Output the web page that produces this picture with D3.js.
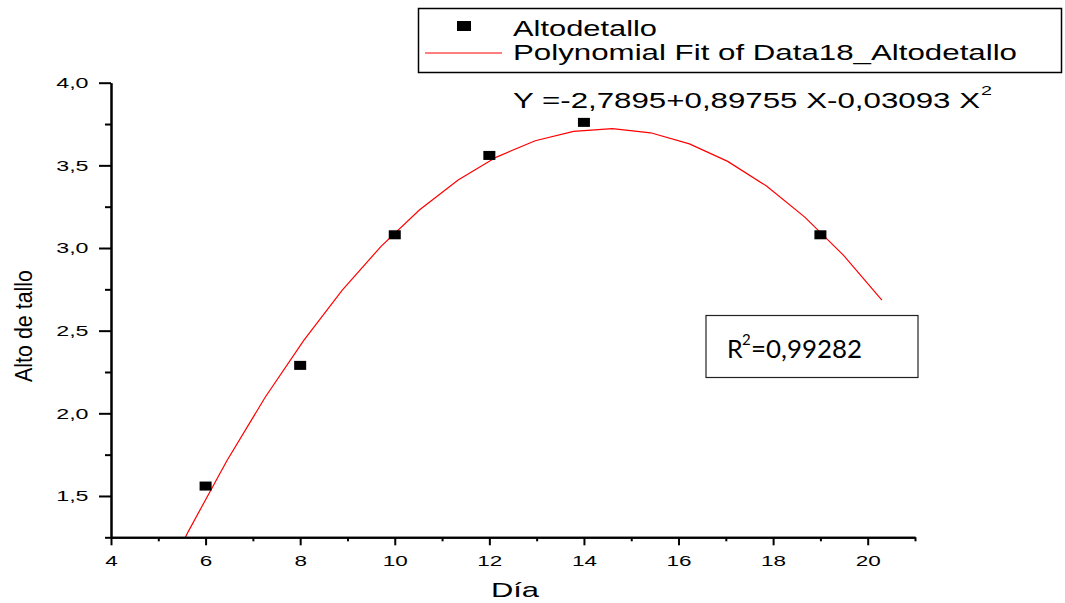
<!DOCTYPE html>
<html>
<head>
<meta charset="utf-8">
<script src="https://cdn.jsdelivr.net/npm/d3@7"></script>
<style>
  body { margin: 0; background: #fff; }
  svg { display: block; }
  text { font-family: "Liberation Sans", Arial, sans-serif; fill: #000; }
</style>
</head>
<body>
<svg width="1065" height="603"></svg>
<script>
// measured points
var dias = [6, 8, 10, 12, 14, 19];
var altos = [1.56, 2.29, 3.08, 3.56, 3.76, 3.08];

// vertices of the fitted curve as drawn
var fitX = [4.0, 4.82, 5.63, 6.45, 7.26, 8.08, 8.89, 9.71, 10.52, 11.34, 12.15,
            12.97, 13.78, 14.6, 15.41, 16.23, 17.04, 17.86, 18.67, 19.49, 20.3];
var fitY = [0.306, 0.818, 1.283, 1.713, 2.097, 2.443, 2.745, 3.010, 3.230, 3.411, 3.550,
            3.649, 3.706, 3.722, 3.697, 3.630, 3.524, 3.375, 3.187, 2.955, 2.685];

var xTicks = [4, 6, 8, 10, 12, 14, 16, 18, 20];
var xMinor = [5, 7, 9, 11, 13, 15, 17, 19, 21];
var yTicks = [1.5, 2.0, 2.5, 3.0, 3.5, 4.0];
var yMinor = [1.25, 1.75, 2.25, 2.75, 3.25, 3.75];

var legendNames = ["Altodetallo", "Polynomial Fit of Data18_Altodetallo"];
var equationText = "Y =-2,7895+0,89755 X-0,03093 X";
var r2Text = "=0,99282";

var svg = d3.select("svg");

var scaleX = d3.scaleLinear().domain([4, 21]).range([111, 915]);
var scaleY = d3.scaleLinear().domain([1.25, 4.0]).range([537.3, 82.7]);

var commaFmt = function (d) { return d3.format(".1f")(d).replace(".", ","); };

// clip for the fit line
svg.append("clipPath").attr("id", "plotClip")
    .append("rect")
    .attr("x", scaleX(4)).attr("y", scaleY(4.0))
    .attr("width", scaleX(21) - scaleX(4))
    .attr("height", scaleY(1.25) - scaleY(4.0));

// fit line
var line = d3.line()
    .x(function (d) { return scaleX(d[0]); })
    .y(function (d) { return scaleY(d[1]); });

svg.append("path")
    .datum(fitX.map(function (x, i) { return [x, fitY[i]]; }))
    .attr("clip-path", "url(#plotClip)")
    .attr("fill", "none")
    .attr("stroke", "#ff0000")
    .attr("stroke-width", 1.2)
    .attr("d", line);

// points
svg.selectAll(".pt")
    .data(dias.map(function (d, i) { return [d, altos[i]]; }))
    .enter().append("rect")
    .attr("class", "pt")
    .attr("x", function (d) { return scaleX(d[0]) - 6; })
    .attr("y", function (d) { return scaleY(d[1]) - 4.5; })
    .attr("width", 12)
    .attr("height", 9)
    .attr("fill", "#000");

// axes
svg.append("g")
    .attr("transform", "translate(0," + scaleY(1.25) + ")")
    .call(d3.axisBottom(scaleX).tickValues(xMinor).tickSize(4).tickSizeOuter(0).tickFormat(""));
var axisXg = svg.append("g")
    .attr("transform", "translate(0," + scaleY(1.25) + ")")
    .call(d3.axisBottom(scaleX).tickValues(xTicks).tickSize(8).tickSizeOuter(0).tickPadding(10)
        .tickFormat(function (d) { return d; }));
axisXg.selectAll("text")
    .style("font-size", "15px")
    .attr("transform", "scale(1.5,1)");

svg.append("g")
    .attr("transform", "translate(" + scaleX(4) + ",0)")
    .call(d3.axisLeft(scaleY).tickValues(yMinor).tickSize(6).tickSizeOuter(0).tickFormat(""));
var axisYg = svg.append("g")
    .attr("transform", "translate(" + scaleX(4) + ",0)")
    .call(d3.axisLeft(scaleY).tickValues(yTicks).tickSize(12).tickSizeOuter(0).tickFormat(commaFmt));
axisYg.selectAll("text")
    .style("font-size", "15px")
    .attr("x", -14.5)
    .attr("transform", "scale(1.55,1)");

svg.selectAll(".domain, .tick line")
    .attr("stroke", "#000")
    .attr("stroke-width", 2);

// axis titles
svg.append("text")
    .attr("transform", "translate(515,597) scale(1.55,1)")
    .attr("text-anchor", "middle")
    .style("font-size", "20px")
    .text("Día");

svg.append("text")
    .attr("transform", "translate(32,326) scale(1.4,1) rotate(-90)")
    .attr("text-anchor", "middle")
    .attr("textLength", 112)
    .attr("lengthAdjust", "spacingAndGlyphs")
    .style("font-size", "17px")
    .text("Alto de tallo");

// legend
svg.append("rect")
    .attr("x", 418.5).attr("y", 8.5)
    .attr("width", 643).attr("height", 64)
    .attr("fill", "#fff")
    .attr("stroke", "#000")
    .attr("stroke-width", 1.5);

svg.append("rect")
    .attr("x", 457).attr("y", 21)
    .attr("width", 14).attr("height", 10)
    .attr("fill", "#000");

svg.append("line")
    .attr("x1", 425).attr("x2", 502)
    .attr("y1", 53).attr("y2", 53)
    .attr("stroke", "#ff0000")
    .attr("stroke-width", 1);

var legendLen = [144, 504];
svg.selectAll(".legText")
    .data(legendNames)
    .enter().append("text")
    .attr("class", "legText")
    .attr("x", 513)
    .attr("y", function (d, i) { return 36 + i * 24; })
    .attr("textLength", function (d, i) { return legendLen[i]; })
    .attr("lengthAdjust", "spacingAndGlyphs")
    .style("font-size", "22px")
    .text(function (d) { return d; });

// equation
svg.append("text")
    .attr("x", 513).attr("y", 108)
    .attr("textLength", 467)
    .attr("lengthAdjust", "spacingAndGlyphs")
    .style("font-size", "22px")
    .text(equationText);
svg.append("text")
    .attr("x", 981).attr("y", 95)
    .attr("textLength", 11)
    .attr("lengthAdjust", "spacingAndGlyphs")
    .style("font-size", "13px")
    .text("2");

// R2 box
svg.append("rect")
    .attr("x", 706).attr("y", 315.5)
    .attr("width", 212).attr("height", 62)
    .attr("fill", "#fff")
    .attr("stroke", "#222")
    .attr("stroke-width", 1.2);
svg.append("text")
    .attr("x", 727).attr("y", 358)
    .style("font-family", "Lato, 'Open Sans', sans-serif")
    .style("font-size", "25px")
    .text("R");
svg.append("text")
    .attr("x", 742).attr("y", 345)
    .style("font-family", "Lato, 'Open Sans', sans-serif")
    .style("font-size", "15px")
    .text("2");
svg.append("text")
    .attr("x", 751).attr("y", 358)
    .attr("textLength", 111)
    .attr("lengthAdjust", "spacingAndGlyphs")
    .style("font-family", "Lato, 'Open Sans', sans-serif")
    .style("font-size", "25px")
    .text(r2Text);
</script>
</body>
</html>
